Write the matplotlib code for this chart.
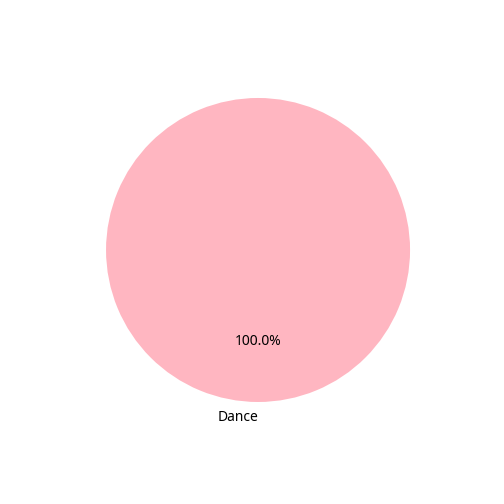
import matplotlib
matplotlib.use("Agg")
import matplotlib.pyplot as plt

plt.rcParams['font.family'] = ['Noto Sans', 'DejaVu Sans']

labels = ["Dance"]
values = [1]
colors = ["#ffb6c1"]

fig = plt.figure(figsize=(5.04, 5.04), dpi=100)
ax = fig.add_axes([0.135, 0.127, 0.754, 0.754])
wedges, texts, autotexts = ax.pie(values, labels=labels, colors=colors,
                                  autopct="%1.1f%%", startangle=90)
for t in texts:
    t.set_horizontalalignment("right")

fig.savefig("out.png", dpi=100)
